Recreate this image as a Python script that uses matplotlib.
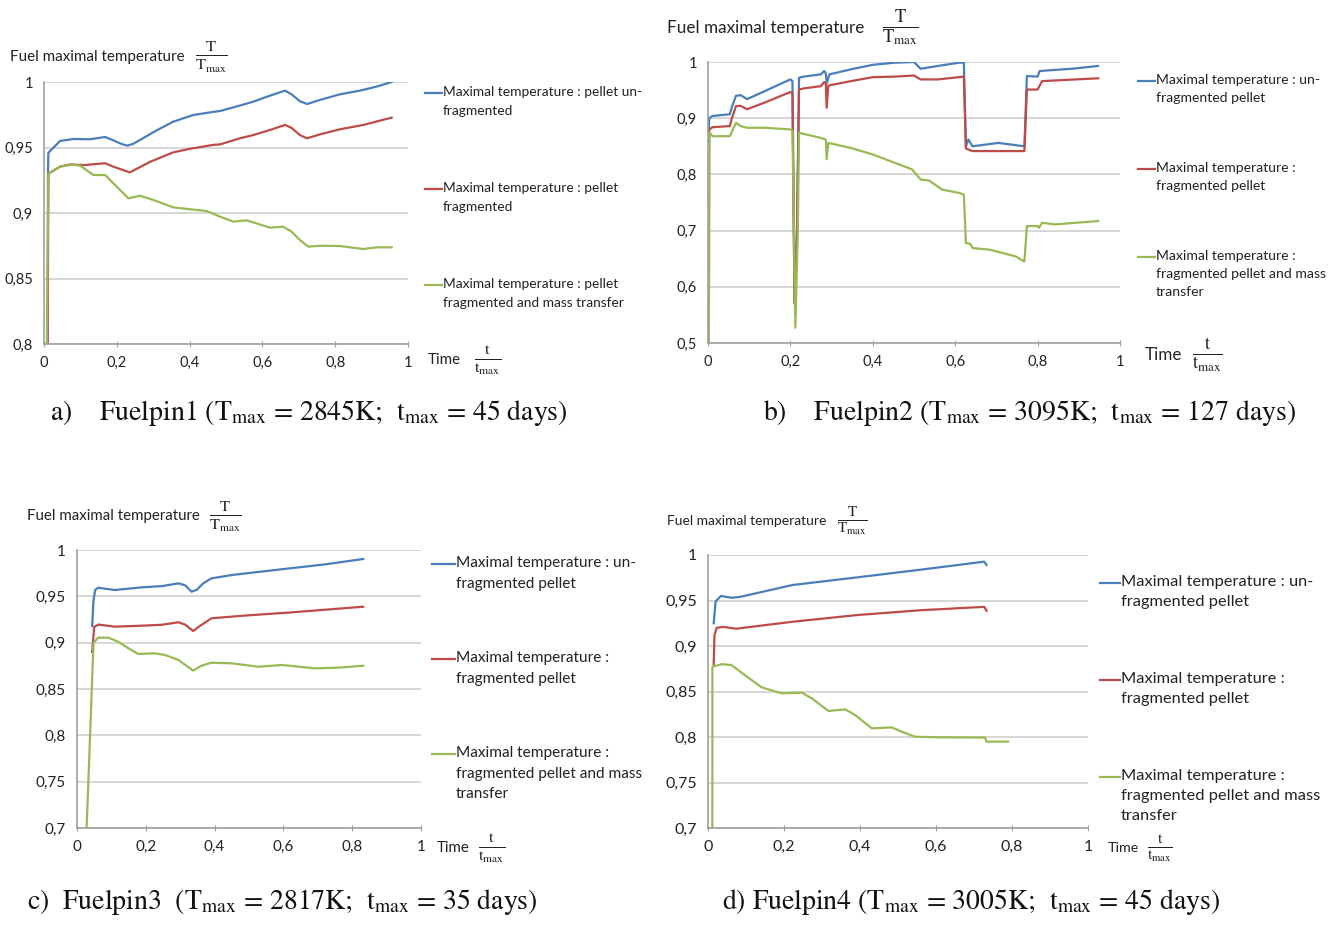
import matplotlib
matplotlib.use("Agg")
import matplotlib.pyplot as plt

plt.rcParams["font.family"] = ["Lato", "DejaVu Sans"]
plt.rcParams["mathtext.fontset"] = "stix"

W, H = 1342, 932

BLUE = "#4a7ebb"
RED = "#be4b48"
GREEN = "#98b954"
GRID = "#d0d0d0"
AXIS = "#a0a0a0"
INK = "#222222"

# ── Fuelpin1 ────────────────────────────────────────────────────────────────
t1_blue = [0.010, 0.011, 0.012, 0.037, 0.044, 0.081, 0.126, 0.168, 0.186, 0.213, 0.229,
           0.245, 0.309, 0.355, 0.410, 0.456, 0.484, 0.538, 0.575, 0.621, 0.662, 0.680,
           0.703, 0.723, 0.758, 0.813, 0.868, 0.914, 0.955]
v1_blue = [0.800, 0.930, 0.946, 0.953, 0.955, 0.9565, 0.9563, 0.958, 0.956, 0.9527, 0.9514,
           0.9528, 0.963, 0.9697, 0.9748, 0.9768, 0.9779, 0.982, 0.985, 0.9896, 0.9934, 0.9906,
           0.9853, 0.9832, 0.9863, 0.9906, 0.9934, 0.9965, 1.000]
t1_red = [0.010, 0.012, 0.044, 0.071, 0.112, 0.168, 0.190, 0.236, 0.291, 0.355, 0.401,
          0.465, 0.484, 0.538, 0.575, 0.621, 0.662, 0.680, 0.703, 0.722, 0.758, 0.813,
          0.877, 0.955]
v1_red = [0.800, 0.930, 0.9354, 0.937, 0.9366, 0.938, 0.9354, 0.931, 0.939, 0.9463, 0.949,
          0.952, 0.9524, 0.957, 0.9595, 0.9634, 0.9672, 0.965, 0.9595, 0.957, 0.960, 0.9639,
          0.9672, 0.9728]
t1_green = [0.008, 0.012, 0.044, 0.081, 0.100, 0.136, 0.168, 0.195, 0.232, 0.264, 0.300,
            0.355, 0.420, 0.447, 0.484, 0.520, 0.557, 0.621, 0.657, 0.680, 0.703, 0.726,
            0.758, 0.813, 0.877, 0.914, 0.955]
v1_green = [0.800, 0.930, 0.9354, 0.937, 0.936, 0.929, 0.929, 0.9214, 0.9112, 0.9132, 0.910,
            0.9043, 0.9023, 0.9015, 0.8972, 0.8934, 0.8944, 0.8888, 0.8896, 0.8858, 0.8794,
            0.8743, 0.875, 0.8748, 0.8725, 0.8738, 0.8738]

# ── Fuelpin2 ────────────────────────────────────────────────────────────────
t2_blue = [0.002, 0.003, 0.011, 0.053, 0.058, 0.068, 0.079, 0.095, 0.137, 0.179, 0.200,
           0.205, 0.210, 0.216, 0.221, 0.232, 0.274, 0.282, 0.286, 0.288, 0.295, 0.347,
           0.400, 0.453, 0.500, 0.516, 0.558, 0.610, 0.621, 0.626, 0.632, 0.642, 0.705,
           0.768, 0.774, 0.800, 0.805, 0.884, 0.947]
v2_blue = [0.880, 0.900, 0.904, 0.907, 0.920, 0.940, 0.941, 0.934, 0.948, 0.962, 0.969,
           0.966, 0.571, 0.700, 0.972, 0.974, 0.978, 0.984, 0.980, 0.962, 0.978, 0.987,
           0.995, 0.9988, 1.000, 0.988, 0.993, 0.9988, 0.999, 0.850, 0.862, 0.850, 0.856,
           0.850, 0.975, 0.974, 0.984, 0.988, 0.993]
t2_red = [0.002, 0.003, 0.011, 0.053, 0.058, 0.068, 0.079, 0.095, 0.137, 0.200, 0.205,
          0.210, 0.216, 0.221, 0.232, 0.274, 0.282, 0.286, 0.288, 0.292, 0.347, 0.400,
          0.453, 0.500, 0.516, 0.558, 0.621, 0.626, 0.642, 0.768, 0.774, 0.800, 0.811,
          0.947]
v2_red = [0.860, 0.880, 0.884, 0.886, 0.900, 0.9216, 0.922, 0.916, 0.9276, 0.9466, 0.944,
          0.571, 0.700, 0.951, 0.953, 0.957, 0.9644, 0.962, 0.9186, 0.958, 0.966, 0.973,
          0.974, 0.976, 0.969, 0.969, 0.974, 0.846, 0.8415, 0.8415, 0.951, 0.951, 0.966,
          0.971]
t2_green = [0.002, 0.004, 0.011, 0.053, 0.068, 0.079, 0.095, 0.137, 0.200, 0.205, 0.212,
            0.218, 0.221, 0.232, 0.274, 0.286, 0.288, 0.292, 0.347, 0.400, 0.453, 0.495,
            0.516, 0.537, 0.568, 0.610, 0.621, 0.626, 0.637, 0.642, 0.684, 0.716, 0.747,
            0.768, 0.774, 0.800, 0.803, 0.811, 0.842, 0.947]
v2_green = [0.500, 0.874, 0.868, 0.868, 0.892, 0.886, 0.883, 0.883, 0.880, 0.878, 0.527,
            0.700, 0.874, 0.872, 0.865, 0.862, 0.827, 0.856, 0.847, 0.8355, 0.8207, 0.809,
            0.791, 0.789, 0.773, 0.767, 0.764, 0.678, 0.676, 0.669, 0.666, 0.660, 0.654,
            0.645, 0.708, 0.708, 0.705, 0.714, 0.711, 0.717]

# ── Fuelpin3 ────────────────────────────────────────────────────────────────
t3_blue = [0.044, 0.048, 0.053, 0.062, 0.110, 0.188, 0.246, 0.295, 0.314, 0.333, 0.348,
           0.367, 0.391, 0.450, 0.576, 0.721, 0.832]
v3_blue = [0.918, 0.946, 0.957, 0.9593, 0.9568, 0.9597, 0.961, 0.964, 0.962, 0.955, 0.957,
           0.964, 0.9694, 0.973, 0.9784, 0.9845, 0.9903]
t3_red = [0.044, 0.050, 0.062, 0.110, 0.188, 0.246, 0.295, 0.314, 0.338, 0.357, 0.391,
          0.479, 0.624, 0.832]
v3_red = [0.890, 0.917, 0.9195, 0.9173, 0.9183, 0.9193, 0.922, 0.9195, 0.9126, 0.918, 0.9263,
          0.929, 0.9327, 0.9388]
t3_green = [0.028, 0.048, 0.062, 0.091, 0.120, 0.149, 0.178, 0.227, 0.256, 0.295, 0.338,
            0.362, 0.391, 0.450, 0.527, 0.595, 0.692, 0.760, 0.832]
v3_green = [0.700, 0.900, 0.9054, 0.9054, 0.901, 0.894, 0.8878, 0.8885, 0.8867, 0.8813, 0.8698,
            0.8752, 0.8784, 0.8777, 0.874, 0.8759, 0.8723, 0.873, 0.8751]

# ── Fuelpin4 ────────────────────────────────────────────────────────────────
t4_blue = [0.015, 0.020, 0.034, 0.0625, 0.085, 0.222, 0.392, 0.5625, 0.727, 0.733]
v4_blue = [0.925, 0.949, 0.955, 0.953, 0.954, 0.967, 0.9754, 0.984, 0.9927, 0.989]
t4_red = [0.015, 0.017, 0.023, 0.040, 0.074, 0.222, 0.392, 0.5625, 0.727, 0.733]
v4_red = [0.880, 0.912, 0.920, 0.921, 0.919, 0.9266, 0.934, 0.9394, 0.943, 0.9387]
t4_green = [0.0114, 0.0116, 0.036, 0.062, 0.097, 0.141, 0.194, 0.247, 0.273, 0.317, 0.361,
            0.387, 0.431, 0.483, 0.510, 0.545, 0.606, 0.729, 0.733, 0.790]
v4_green = [0.700, 0.8773, 0.880, 0.879, 0.868, 0.8546, 0.848, 0.8487, 0.8425, 0.8286, 0.8304,
            0.8242, 0.8095, 0.8106, 0.8058, 0.8003, 0.7997, 0.7994, 0.7949, 0.7949]

x_ticks = [0, 0.2, 0.4, 0.6, 0.8, 1]
y_ticks_a = [0.8, 0.85, 0.9, 0.95, 1]
y_ticks_b = [0.5, 0.6, 0.7, 0.8, 0.9, 1]
y_ticks_cd = [0.7, 0.75, 0.8, 0.85, 0.9, 0.95, 1]

labels_a = ["Maximal temperature : pellet un-\nfragmented",
            "Maximal temperature : pellet\nfragmented",
            "Maximal temperature : pellet\nfragmented and mass transfer"]
labels_bcd = ["Maximal temperature : un-\nfragmented pellet",
              "Maximal temperature :\nfragmented pellet",
              "Maximal temperature :\nfragmented pellet and mass\ntransfer"]

captions = [
    r"a)    Fuelpin1 ($\mathrm{T_{max}}$ = 2845K;  $\mathrm{t_{max}}$ = 45 days)",
    r"b)    Fuelpin2 ($\mathrm{T_{max}}$ = 3095K;  $\mathrm{t_{max}}$ = 127 days)",
    r"c)  Fuelpin3  ($\mathrm{T_{max}}$ = 2817K;  $\mathrm{t_{max}}$ = 35 days)",
    r"d) Fuelpin4 ($\mathrm{T_{max}}$ = 3005K;  $\mathrm{t_{max}}$ = 45 days)",
]


def fx(px):
    return px / W


def fy(py):
    return 1 - py / H


def comma(v):
    return f"{v:g}".replace(".", ",")


fig = plt.figure(figsize=(W / 100, H / 100), dpi=100)


def panel(box, series, yticks, labels, legend, tick_fs, ylab, time_lab, cap, cap_pos):
    x0, x1, y0, y1 = box
    ax = fig.add_axes([fx(x0), fy(y1), fx(x1 - x0), (y1 - y0) / H])
    for t, v, c in series:
        ax.plot(t, v, color=c, lw=1.6, solid_joinstyle="round")
    ax.set_xlim(0, 1)
    ax.set_ylim(yticks[0], yticks[-1])
    ax.set_xticks(x_ticks)
    ax.set_xticklabels([comma(v) for v in x_ticks])
    ax.set_yticks(yticks)
    ax.set_yticklabels([comma(v) for v in yticks])
    ax.tick_params(axis="y", length=0, labelsize=tick_fs, pad=8, colors=INK)
    ax.tick_params(axis="x", length=5, direction="inout", labelsize=tick_fs, pad=6,
                   colors=AXIS, labelcolor=INK)
    ax.grid(axis="y", color=GRID, lw=1.2)
    ax.set_axisbelow(True)
    for s in ["top", "right"]:
        ax.spines[s].set_visible(False)
    for s in ["left", "bottom"]:
        ax.spines[s].set_color(AXIS)
        ax.spines[s].set_linewidth(1.2)

    # legend drawn beside the plot (Excel style, line at first text row)
    lx0, lx1, ly, step, fs, lsp = legend
    for k, ((t, v, c), lab) in enumerate(zip(series, labels)):
        yy = ly + k * step
        fig.add_artist(plt.Line2D([fx(lx0), fx(lx1)], [fy(yy), fy(yy)], color=c, lw=1.6))
        fig.text(fx(lx1 + 1), fy(yy - fs * 0.72), lab, fontsize=fs, va="top", ha="left",
                 linespacing=lsp, color=INK)

    # axis titles
    yx, yy, yfs, frac_x = ylab
    fig.text(fx(yx), fy(yy), "Fuel maximal temperature", fontsize=yfs, va="center",
             ha="left", color=INK)
    fig.text(fx(frac_x), fy(yy), r"$\frac{\mathrm{T}}{\mathrm{T_{max}}}$", fontsize=yfs * 1.55,
             va="center", ha="center", color=INK)
    tx, ty, tfs, tfx = time_lab
    fig.text(fx(tx), fy(ty), "Time", fontsize=tfs, va="center", ha="left", color=INK)
    fig.text(fx(tfx), fy(ty), r"$\frac{\mathrm{t}}{\mathrm{t_{max}}}$", fontsize=tfs * 1.55,
             va="center", ha="center", color=INK)

    fig.text(fx(cap_pos[0]), fy(cap_pos[1]), cap, fontsize=20, family="STIXGeneral",
             va="center", ha="left", color="#111111")
    return ax


panel((44, 408, 82, 344),
      [(t1_blue, v1_blue, BLUE), (t1_red, v1_red, RED), (t1_green, v1_green, GREEN)],
      y_ticks_a, labels_a, (425, 442, 93, 96, 9.9, 1.72), 10.5,
      (10, 57, 10.9, 211), (428, 360, 10.9, 488), captions[0], (50, 413))

panel((708, 1120, 62, 343),
      [(t2_blue, v2_blue, BLUE), (t2_red, v2_red, RED), (t2_green, v2_green, GREEN)],
      y_ticks_b, labels_bcd, (1138, 1155, 81, 88, 10.1, 1.62), 10.5,
      (667, 28, 12.3, 900), (1145, 355, 12.3, 1207), captions[1], (763, 413))

panel((77, 421, 550, 828),
      [(t3_blue, v3_blue, BLUE), (t3_red, v3_red, RED), (t3_green, v3_green, GREEN)],
      y_ticks_cd, labels_bcd, (432, 455, 564, 95, 11.1, 1.6), 11,
      (27, 516, 10.8, 225), (437, 848, 10.8, 492), captions[2], (27, 902))

panel((708, 1088, 555, 828),
      [(t4_blue, v4_blue, BLUE), (t4_red, v4_red, RED), (t4_green, v4_green, GREEN)],
      y_ticks_cd, labels_bcd, (1100, 1120, 583, 97, 11.8, 1.58), 11.5,
      (667, 521, 10.0, 852), (1108, 848, 10.3, 1160), captions[3], (722, 902))

fig.savefig("out.png", dpi=100)
